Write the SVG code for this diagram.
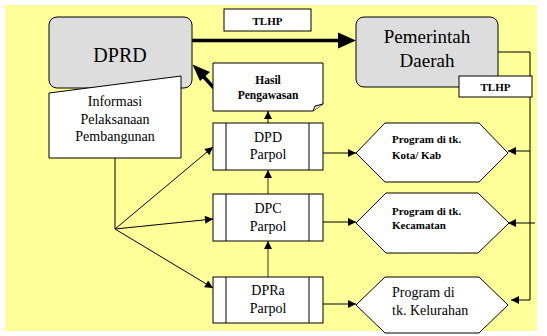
<svg xmlns="http://www.w3.org/2000/svg" width="547" height="336" viewBox="0 0 547 336">
<style>
.box{fill:#fff;stroke:#000;stroke-width:1}
.gray{fill:#ddd;stroke:#000;stroke-width:1}
.c{text-anchor:middle}
.s{text-anchor:start}
.b{font-weight:bold}
.ln{fill:none;stroke:#000;stroke-width:1}
.ol{fill:none;stroke:#555533;stroke-width:1.2}
.thick{fill:none;stroke:#000;stroke-width:3.5}
</style>
<defs>
<marker id="a" viewBox="0 0 10 10" refX="10" refY="5" markerWidth="10" markerHeight="8" markerUnits="userSpaceOnUse" orient="auto"><path d="M0,0L10,5L0,10z" fill="#000"/></marker>
</defs>
<rect x="5" y="5" width="532" height="326" fill="#ffff99"/>
<g id="connectors">
<line class="thick" x1="192" y1="40.5" x2="338" y2="40.5"/>
<path d="M338,32.5L356,40.5L338,48.5z" fill="#000"/>
<line class="thick" x1="214" y1="88" x2="203" y2="76"/>
<path d="M192.5,64.5L210,72L200,81z" fill="#000"/>
<line class="ln" x1="268" y1="123" x2="268" y2="111" marker-end="url(#a)"/>
<line class="ol" x1="268" y1="194" x2="268" y2="170" marker-end="url(#a)"/>
<line class="ol" x1="268" y1="277" x2="268" y2="241" marker-end="url(#a)"/>
<line class="ln" x1="115" y1="158" x2="115" y2="229"/>
<line class="ln" x1="115" y1="229" x2="213" y2="147" marker-end="url(#a)"/>
<line class="ln" x1="115" y1="229" x2="213" y2="219" marker-end="url(#a)"/>
<line class="ln" x1="115" y1="229" x2="213" y2="288" marker-end="url(#a)"/>
<line class="ln" x1="323" y1="153" x2="356" y2="153" marker-end="url(#a)"/>
<line class="ln" x1="323" y1="222" x2="356" y2="222" marker-end="url(#a)"/>
<line class="ln" x1="323" y1="304" x2="356" y2="304" marker-end="url(#a)"/>
<polyline class="ln" points="498,52 530,52 530,300"/>
<line class="ln" x1="530" y1="151" x2="508" y2="151" marker-end="url(#a)"/>
<line class="ln" x1="535" y1="223" x2="508" y2="223" marker-end="url(#a)"/>
<line class="ln" x1="530" y1="300" x2="511" y2="300" marker-end="url(#a)"/>
</g>
<g font-family="Liberation Serif, serif" fill="#000">
<g id="dprd">
<rect class="gray" x="49" y="17" width="143" height="71" rx="8"/>
<text class="c" x="120" y="62" font-size="20" fill="#000">DPRD</text>
</g>
<g id="informasi">
<path class="box" d="M49,93L181,76L181,158L49,158z"/>
<text class="c" x="115" y="106" font-size="14">Informasi</text>
<text class="c" x="115" y="123.5" font-size="14">Pelaksanaan</text>
<text class="c" x="115" y="141" font-size="14">Pembangunan</text>
</g>
<g id="tlhp1">
<rect class="box" x="224" y="9" width="87" height="22"/>
<text class="c b" x="267.5" y="24.5" font-size="11">TLHP</text>
</g>
<g id="pemda">
<rect class="gray" x="356" y="17" width="142" height="70" rx="8"/>
<text class="c" x="427" y="43" font-size="19">Pemerintah</text>
<text class="c" x="427" y="67" font-size="19">Daerah</text>
</g>
<g id="tlhp2">
<rect class="box" x="459" y="76" width="73" height="21"/>
<text class="c b" x="495.5" y="91" font-size="11">TLHP</text>
</g>
<g id="hasil">
<path class="box" d="M213,63H323V104L313,111H213z"/>
<path d="M313,111L315,106L323,104" fill="#ddd" stroke="#000" stroke-width="1"/>
<text class="c b" x="268" y="84" font-size="11.5">Hasil</text>
<text class="c b" x="268" y="99" font-size="11.5">Pengawasan</text>
</g>
<g id="dpd">
<rect class="box" x="213" y="123" width="110" height="47"/>
<line class="ln" x1="226" y1="123" x2="226" y2="170"/>
<line class="ln" x1="309" y1="123" x2="309" y2="170"/>
<text class="c" x="268" y="142" font-size="14">DPD</text>
<text class="c" x="268" y="159" font-size="14">Parpol</text>
</g>
<g id="dpc">
<rect class="box" x="213" y="194" width="110" height="47"/>
<line class="ln" x1="226" y1="194" x2="226" y2="241"/>
<line class="ln" x1="309" y1="194" x2="309" y2="241"/>
<text class="c" x="268" y="213" font-size="14">DPC</text>
<text class="c" x="268" y="231" font-size="14">Parpol</text>
</g>
<g id="dpra">
<rect class="box" x="213" y="277" width="110" height="46"/>
<line class="ln" x1="226" y1="277" x2="226" y2="323"/>
<line class="ln" x1="309" y1="277" x2="309" y2="323"/>
<text class="c" x="268" y="295" font-size="14">DPRa</text>
<text class="c" x="268" y="313" font-size="14">Parpol</text>
</g>
<g id="prog-kota">
<path class="box" d="M356,153L385,123H479L508,153L479,182H385z"/>
<text class="s b" x="392" y="143" font-size="11">Program di tk.</text>
<text class="s b" x="392" y="159" font-size="11">Kota/ Kab</text>
</g>
<g id="prog-kec">
<path class="box" d="M356,223L386,193H478L509,223L478,253H386z"/>
<text class="s b" x="392" y="215" font-size="11">Program di tk.</text>
<text class="s b" x="392" y="229" font-size="11">Kecamatan</text>
</g>
<g id="prog-kel">
<path class="box" d="M356,305L385,277H479L508,305L479,333H385z"/>
<text class="s" x="392" y="297" font-size="14">Program di</text>
<text class="s" x="392" y="315" font-size="14">tk. Kelurahan</text>
</g>
</g>
</svg>
